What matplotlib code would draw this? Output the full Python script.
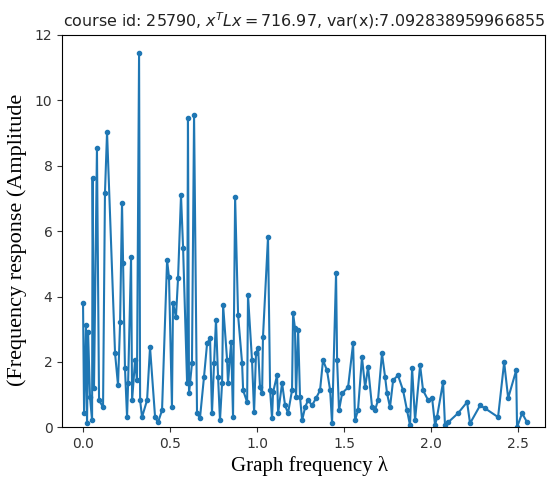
import matplotlib
matplotlib.use("Agg")
import matplotlib.pyplot as plt

lam = [0.000, 0.006, 0.017, 0.023, 0.029, 0.040, 0.052, 0.055, 0.063, 0.080,
       0.092, 0.115, 0.126, 0.138, 0.184, 0.201, 0.213, 0.224, 0.230, 0.241,
       0.253, 0.259, 0.276, 0.282, 0.299, 0.310, 0.322, 0.328, 0.339, 0.368,
       0.385, 0.414, 0.431, 0.454, 0.483, 0.494, 0.511, 0.517, 0.534, 0.546,
       0.563, 0.575, 0.598, 0.603, 0.609, 0.615, 0.626, 0.638, 0.655, 0.672,
       0.695, 0.713, 0.730, 0.741, 0.753, 0.764, 0.776, 0.787, 0.799, 0.805,
       0.828, 0.833, 0.851, 0.862, 0.874, 0.891, 0.914, 0.920, 0.943, 0.948,
       0.971, 0.983, 0.994, 1.006, 1.017, 1.029, 1.034, 1.063, 1.075, 1.086,
       1.092, 1.115, 1.121, 1.144, 1.161, 1.178, 1.201, 1.207, 1.218, 1.224,
       1.236, 1.247, 1.259, 1.276, 1.293, 1.316, 1.339, 1.362, 1.379, 1.402,
       1.420, 1.431, 1.454, 1.460, 1.471, 1.489, 1.523, 1.552, 1.563, 1.580,
       1.603, 1.621, 1.638, 1.661, 1.678, 1.695, 1.718, 1.736, 1.747, 1.764,
       1.782, 1.810, 1.839, 1.862, 1.879, 1.891, 1.908, 1.937, 1.954, 1.983,
       2.006, 2.023, 2.034, 2.069, 2.080, 2.098, 2.155, 2.207, 2.224, 2.282,
       2.310, 2.385, 2.420, 2.443, 2.489, 2.494, 2.523, 2.552]

amp = [3.80, 0.43, 3.12, 0.12, 2.91, 0.92, 0.21, 7.62, 1.19, 8.54,
       0.83, 0.61, 7.16, 9.03, 2.26, 1.29, 3.21, 6.86, 5.02, 1.81,
       0.31, 1.35, 5.20, 0.83, 2.05, 1.44, 11.45, 0.83, 0.31, 0.83,
       2.45, 0.31, 0.15, 0.52, 5.11, 4.59, 0.61, 3.80, 3.37, 4.56,
       7.10, 5.48, 1.35, 9.46, 1.04, 1.35, 1.96, 9.55, 0.43, 0.28,
       1.53, 2.57, 2.72, 0.43, 1.96, 3.28, 1.53, 0.21, 1.35, 3.73,
       2.05, 1.35, 2.60, 0.31, 7.04, 3.43, 1.96, 1.13, 0.77, 4.04,
       2.05, 0.46, 2.26, 2.42, 1.22, 1.04, 2.75, 5.82, 1.13, 0.28,
       1.07, 1.59, 0.43, 1.35, 0.67, 0.43, 1.13, 3.49, 3.03, 0.92,
       2.97, 0.92, 0.21, 0.61, 0.83, 0.67, 0.89, 1.13, 2.05, 1.74,
       1.13, 0.12, 4.71, 2.05, 0.52, 1.04, 1.22, 2.57, 0.21, 0.52,
       2.14, 1.22, 1.84, 0.61, 0.52, 0.83, 2.26, 1.53, 1.04, 0.61,
       1.44, 1.59, 1.13, 0.52, 0.06, 1.81, 0.21, 1.90, 1.13, 0.83,
       0.89, 0.06, 0.31, 1.38, 0.06, 0.15, 0.43, 0.77, 0.12, 0.67,
       0.58, 0.31, 1.99, 0.89, 1.74, 0.00, 0.43, 0.15]

title_text = r"course id: 25790, $x^TLx = 716.97$, var(x):7.092838959966855"
xlabel_text = "Graph frequency λ"
ylabel_text = "(Frequency response (Amplitude"

fig = plt.figure(figsize=(5.5, 4.79), dpi=100)
ax = fig.add_axes([0.113, 0.108, 0.878, 0.819])
ax.plot(lam, amp, color="#1f77b4", marker="o", markersize=3, linewidth=1.5)
ax.set_xlim(-0.12, 2.655)
ax.set_ylim(0, 12)
ax.set_xticks([0.0, 0.5, 1.0, 1.5, 2.0, 2.5])
ax.set_yticks([0, 2, 4, 6, 8, 10, 12])
ax.tick_params(labelsize=10, colors="#333333")
ax.set_title(title_text, fontsize=11.4, color="#222222")
fig.text(0.563, 0.027, xlabel_text, ha="center", va="center",
         family=["Liberation Serif", "DejaVu Serif"], fontsize=15)
fig.text(0.032, 0.5, ylabel_text, ha="center", va="center", rotation=90,
         family=["Liberation Serif", "DejaVu Serif"], fontsize=16)
fig.savefig("out.png", dpi=100)
